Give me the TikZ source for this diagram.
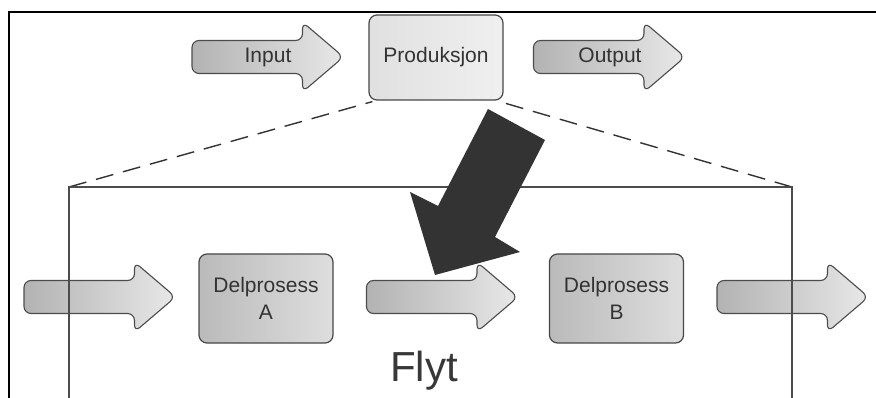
\documentclass[tikz,border=0pt]{standalone}
\usepackage{fontspec}
\setmainfont{Liberation Sans}

\tikzset{
  arrowbody/.style={draw=black!70, line width=1.1pt, rounded corners=7pt,
    left color=black!30, right color=black!9},
  flowarrow/.pic={
    \path[arrowbody] (-75.5,-16.5) -- (35,-16.5) -- (35,-35) -- (76,0)
      -- (35,35) -- (35,16.5) -- (-75.5,16.5) -- cycle;
  },
  arrowtext/.style={inner sep=0pt, font=\fontsize{21}{24}\selectfont, text=black!80},
  procbox/.style={rectangle, draw=black!72, line width=1.2pt,
    rounded corners=8pt, minimum width=134pt, minimum height=89pt,
    left color=black!27, right color=black!13, align=center,
    inner sep=0pt, font=\fontsize{21}{27}\selectfont, text=black!80},
  topbox/.style={procbox, minimum height=85pt, left color=black!12, right color=black!6},
  dashline/.style={draw=black!80, line width=1.4pt, dash pattern=on 18pt off 10pt},
  frameline/.style={draw=black!70, line width=1.3pt},
  bigarrow/.style={fill=black!80}
}

\begin{document}
\begin{tikzpicture}[x=1pt,y=-1pt]
  \useasboundingbox (0,0) rectangle (876,398);
  \clip (0,0) rectangle (876,398);
  \fill[white] (0,0) rectangle (876,398);

  % outer page frame
  \draw[line width=2pt, black] (8.5,400) |- (878,12);

  % process on the top level
  \pic at (267.5,57) {flowarrow};
  \node[arrowtext] (input) at (268,57) {Input};
  \node[topbox] (prod) at (436,57.5) {Produksjon};
  \pic at (609,57) {flowarrow};
  \node[arrowtext] (output) at (610,57) {Output};

  % zoomed-in frame corners
  \coordinate (fl) at (69,187);
  \coordinate (fr) at (792,187);
  \coordinate (flb) at (69,402);
  \coordinate (frb) at (792,402);

  % dashed projection lines
  \draw[dashline] (fl) -- ([xshift=4pt,yshift=-1pt]prod.south west);
  \draw[dashline] (fr) -- ([xshift=-4pt,yshift=-1pt]prod.south east);

  % sub-process flow
  \pic at (99.5,297) {flowarrow};
  \node[procbox] (dA) at (266,298.5) {Delprosess\\A};
  \pic at (442,297) {flowarrow};
  \node[procbox] (dB) at (616.5,298.5) {Delprosess\\B};
  \pic at (792.5,297) {flowarrow};

  % detail frame
  \draw[frameline] (flb) -- (fl) -- (fr) -- (frb);

  \node[font=\fontsize{42}{46}\selectfont, text=black!78] (flyt) at (424,371) {Flyt};

  % big zoom arrow
  \fill[bigarrow] (488,109) -- (545,140) -- (495,237) -- (520,252)
    -- (435,275) -- (410,192) -- (438,206) -- cycle;
\end{tikzpicture}
\end{document}
